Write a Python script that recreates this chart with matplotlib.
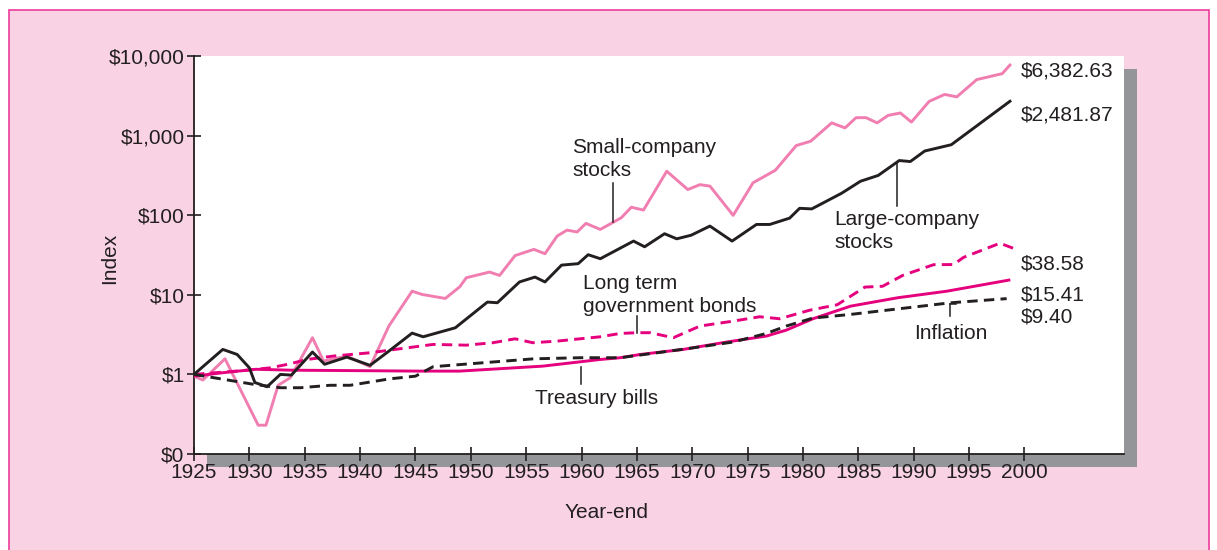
import matplotlib
matplotlib.use("Agg")
import matplotlib.pyplot as plt
from matplotlib.patches import Rectangle
from matplotlib.lines import Line2D

plt.rcParams["font.family"] = ["Liberation Sans", "DejaVu Sans"]
plt.rcParams["lines.scale_dashes"] = False

# ---------------------------------------------------------------
# Datos (indice, $1 invertido a fines de 1925)
# ---------------------------------------------------------------
anios_small = [1925, 1925.8, 1927.8, 1930.8, 1931.5, 1932.6, 1933.7, 1935.7, 1936.7,
               1938.8, 1940.9, 1942.6, 1944.7, 1945.6, 1947.7, 1949.0, 1949.6, 1951.7,
               1952.6, 1954.0, 1955.7, 1956.7, 1957.8, 1958.7, 1959.6, 1960.4, 1961.7,
               1962.9, 1963.6, 1964.5, 1965.6, 1967.7, 1969.6, 1970.7, 1971.6, 1973.7,
               1975.5, 1977.5, 1979.4, 1980.7, 1982.6, 1983.8, 1984.8, 1985.7, 1986.7,
               1987.7, 1988.8, 1989.8, 1991.4, 1992.8, 1993.9, 1995.7, 1998.0, 1998.7]
valores_small = [0.95, 0.85, 1.57, 0.23, 0.23, 0.73, 0.91, 2.89, 1.47,
                 1.70, 1.25, 4.05, 11.1, 10.1, 9.0, 12.6, 16.4, 19.3,
                 17.5, 31.1, 37.2, 32.8, 54.7, 65.0, 61.5, 78.9, 66.3,
                 82, 93, 126, 116, 357, 210, 242, 232, 99.6,
                 256, 366, 750, 850, 1445, 1249, 1680, 1680, 1445,
                 1795, 1925, 1480, 2690, 3290, 3067, 5053, 6000, 7700]

anios_large = [1925, 1927.6, 1928.9, 1930.0, 1930.5, 1931.6, 1932.8, 1933.8, 1935.7,
               1936.8, 1938.8, 1940.9, 1942.6, 1944.7, 1945.7, 1948.6, 1951.5, 1952.4,
               1954.4, 1955.8, 1956.7, 1958.2, 1959.7, 1960.6, 1961.7, 1964.7, 1965.7,
               1967.5, 1968.6, 1969.9, 1971.6, 1973.6, 1975.8, 1977.0, 1978.8, 1979.7,
               1980.8, 1983.5, 1985.2, 1986.8, 1988.7, 1989.7, 1991.0, 1993.4, 1998.7]
valores_large = [1.0, 2.06, 1.78, 1.21, 0.79, 0.70, 1.0, 0.98, 1.91,
                 1.34, 1.65, 1.30, 1.96, 3.3, 2.97, 3.85, 8.1, 7.95,
                 14.5, 16.7, 14.5, 23.6, 24.6, 31.9, 28.4, 47.3, 40.1,
                 58.5, 50.5, 56.0, 73, 47.3, 76.5, 76.5, 91.9, 122,
                 120, 189, 267, 316, 486, 472, 640, 768, 2700]

anios_bonos = [1925, 1929.5, 1931.9, 1933.7, 1935.2, 1937.6, 1940.9, 1942.7, 1946.6,
               1949.6, 1952.0, 1954.0, 1955.6, 1957.8, 1961.7, 1963.5, 1965.0, 1966.2,
               1968.3, 1970.7, 1973.7, 1976.1, 1977.9, 1980.6, 1983.1, 1985.6, 1987.2,
               1989.0, 1991.8, 1993.6, 1994.5, 1997.8, 1999.0]
valores_bonos = [1.0, 1.12, 1.21, 1.36, 1.54, 1.70, 1.87, 2.02, 2.38,
                 2.33, 2.5, 2.80, 2.5, 2.62, 2.97, 3.27, 3.34, 3.34,
                 2.89, 4.05, 4.67, 5.3, 5.0, 6.4, 7.5, 12.5, 12.8,
                 17.5, 23.9, 24.0, 29.5, 44.5, 38.4]

anios_letras = [1925, 1927.6, 1930.6, 1933.7, 1945.4, 1949.0, 1956.5, 1961.7, 1963.5,
                1965.3, 1969.2, 1973.1, 1976.7, 1978.5, 1980.9, 1984.3, 1988.6, 1993.0,
                1998.6]
valores_letras = [0.95, 1.05, 1.16, 1.13, 1.10, 1.10, 1.27, 1.54, 1.62,
                  1.78, 2.06, 2.55, 3.03, 3.6, 5.0, 7.2, 9.2, 11.1,
                  15.3]

anios_inflacion = [1925, 1927.6, 1930.4, 1932.8, 1934.6, 1937.3, 1939.1, 1942.7, 1945.0,
                   1946.6, 1951.1, 1955.7, 1959.9, 1963.5, 1969.5, 1973.7, 1976.7, 1978.5,
                   1980.9, 1984.3, 1993.3, 1998.4]
valores_inflacion = [1.0, 0.87, 0.75, 0.68, 0.68, 0.73, 0.73, 0.88, 0.95,
                     1.25, 1.40, 1.57, 1.62, 1.62, 2.1, 2.55, 3.27, 4.05,
                     5.1, 5.67, 7.93, 8.95]

etiquetas_finales = ["$6,382.63", "$2,481.87", "$38.58", "$15.41", "$9.40"]
ticks_y = [0.1, 1, 10, 100, 1000, 10000]
etiquetas_y = ["$0", "$1", "$10", "$100", "$1,000", "$10,000"]
ticks_x = list(range(1925, 2001, 5))

# Colores
ROSA_FONDO = "#F9D3E4"
ROSA_BORDE = "#EE3B9B"
ROSA_CLARO = "#F07EB0"
MAGENTA = "#E5007E"
NEGRO = "#231F20"
GRIS = "#939598"

W, H = 1217, 550
fig = plt.figure(figsize=(W / 100, H / 100), dpi=100)
fig.patch.set_facecolor("white")


def fx(x):
    return x / W


def fy(y):
    return 1 - y / H


# Fondo rosa con borde
fig.patches.append(Rectangle((fx(9), fy(560)), fx(1209) - fx(9), fy(10) - fy(560),
                             transform=fig.transFigure, facecolor=ROSA_FONDO,
                             edgecolor=ROSA_BORDE, linewidth=1.2, zorder=-3))
# Sombra gris
fig.patches.append(Rectangle((fx(207), fy(467)), fx(930), 398 / H,
                             transform=fig.transFigure, facecolor=GRIS,
                             edgecolor="none", zorder=-2))

ax = fig.add_axes([fx(194), fy(454), fx(930), 398 / H])
ax.set_facecolor("white")

ax.plot(anios_small, valores_small, color=ROSA_CLARO, linewidth=2.1, zorder=3)
ax.plot(anios_large, valores_large, color=NEGRO, linewidth=2.1, zorder=4)
ax.plot(anios_bonos, valores_bonos, color=MAGENTA, linewidth=2.1,
        dashes=(7.5, 4.5), zorder=3)
ax.plot(anios_letras, valores_letras, color=MAGENTA, linewidth=2.1, zorder=3)
ax.plot(anios_inflacion, valores_inflacion, color=NEGRO, linewidth=2.1,
        dashes=(7.5, 4.5), zorder=4)

ax.set_yscale("log")
ax.set_ylim(0.1, 10000)
ax.set_xlim(1925, 2009)
ax.set_yticks(ticks_y)
ax.set_yticklabels(etiquetas_y)
ax.yaxis.set_minor_locator(matplotlib.ticker.NullLocator())
ax.set_xticks(ticks_x)
ax.set_xticklabels([str(t) for t in ticks_x])

for lado in ["top", "right"]:
    ax.spines[lado].set_visible(False)
for lado in ["left", "bottom"]:
    ax.spines[lado].set_color(NEGRO)
    ax.spines[lado].set_linewidth(1.3)

ax.tick_params(axis="both", direction="inout", length=9.5, width=1.2,
               color=NEGRO, labelcolor=NEGRO, labelsize=15)
ax.tick_params(axis="y", pad=2)
ax.tick_params(axis="x", pad=2)

# Titulos de ejes
fig.text(fx(110), fy(258), "Index", rotation=90, ha="center", va="center",
         fontsize=15, color=NEGRO)
fig.text(fx(607), fy(512), "Year-end", ha="center", va="center",
         fontsize=15, color=NEGRO)

# Etiquetas de series con lineas guia
textos = [
    ("Small-company\nstocks", 572, 137),
    ("Large-company\nstocks", 834, 209),
    ("Long term\ngovernment bonds", 583, 273),
    ("Treasury bills", 535, 388),
    ("Inflation", 914, 323),
]
for texto, x, y in textos:
    fig.text(fx(x), fy(y + 1), texto, ha="left", va="top", fontsize=15,
             color=NEGRO, linespacing=1.28)

guias = [
    ([613, 613], [183, 222]),
    ([897, 897], [162, 206]),
    ([637, 637], [316, 333]),
    ([581, 581], [367, 384]),
    ([950, 950], [304, 316]),
    ([950, 956], [304, 304]),
]
for xs, ys in guias:
    fig.add_artist(Line2D([fx(v) for v in xs], [fy(v) for v in ys],
                          transform=fig.transFigure, color=NEGRO, linewidth=1.1))

# Valores finales
posiciones_y = [71, 115, 264, 295, 317]
for texto, y in zip(etiquetas_finales, posiciones_y):
    fig.text(fx(1021), fy(y), texto, ha="left", va="center", fontsize=15, color=NEGRO)

fig.savefig("out.png", dpi=100)
plt.close(fig)
